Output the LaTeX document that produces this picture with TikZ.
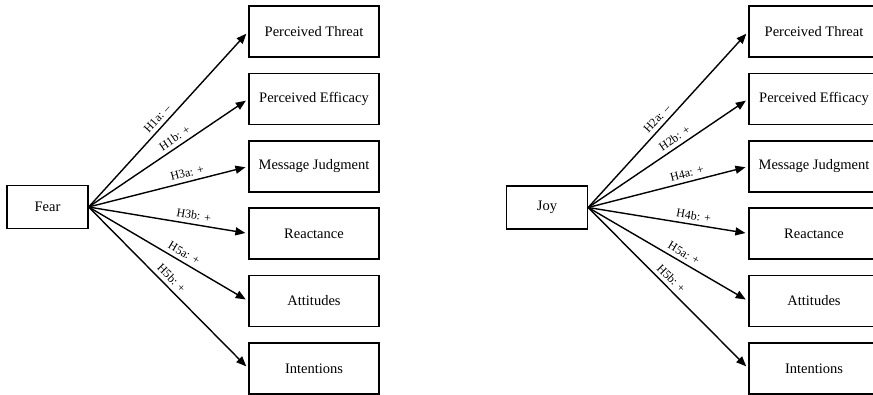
\documentclass[tikz,border=0pt]{standalone}
\usepackage{fontspec}
\setmainfont{Liberation Serif}
\usetikzlibrary{arrows.meta}
\begin{document}
\begin{tikzpicture}[x=1pt,y=-1pt,
  box/.style={draw, line width=1.3pt, minimum width=130pt, minimum height=51pt, inner sep=0pt, font=\fontsize{14.5}{16}\selectfont},
  src/.style={draw, line width=1.3pt, minimum width=81pt, minimum height=43pt, inner sep=0pt, font=\fontsize{14.5}{16}\selectfont},
  link/.style={line width=1.4pt, -{Triangle[length=10pt,width=8pt]}, shorten >=3pt},
  lab/.style={sloped, above, inner sep=0pt, yshift=4pt, font=\fontsize{12}{14}\selectfont}]
\useasboundingbox (0,0) rectangle (873,395);
% left group
\node[src] (fear) at (47.5,207) {Fear};
\node[box] (t1) at (314,31.5) {Perceived Threat};
\node[box] (e1) at (314,99) {Perceived Efficacy};
\node[box] (m1) at (314,166.5) {Message Judgment};
\node[box] (r1) at (314,233.5) {Reactance};
\node[box] (a1) at (314,301) {Attitudes};
\node[box] (i1) at (314,368.5) {Intentions};
\draw[link] (fear.east) -- node[lab,pos=0.47] {H1a: –} (t1.west);
\draw[link] (fear.east) -- node[lab,pos=0.57] {H1b: +} (e1.west);
\draw[link] (fear.east) -- node[lab,pos=0.63] {H3a: +} (m1.west);
\draw[link] (fear.east) -- node[lab,pos=0.65] {H3b: +} (r1.west);
\draw[link] (fear.east) -- node[lab,pos=0.57] {H5a: +} (a1.west);
\draw[link] (fear.east) -- node[lab,pos=0.48] {H5b: +} (i1.west);
% right group
\node[src] (joy) at (547,207.5) {Joy};
\node[box] (t2) at (814,31.5) {Perceived Threat};
\node[box] (e2) at (814,99) {Perceived Efficacy};
\node[box] (m2) at (814,166.5) {Message Judgment};
\node[box] (r2) at (814,233.5) {Reactance};
\node[box] (a2) at (814,301) {Attitudes};
\node[box] (i2) at (814,368.5) {Intentions};
\draw[link] (joy.east) -- node[lab,pos=0.47] {H2a: –} (t2.west);
\draw[link] (joy.east) -- node[lab,pos=0.57] {H2b: +} (e2.west);
\draw[link] (joy.east) -- node[lab,pos=0.63] {H4a: +} (m2.west);
\draw[link] (joy.east) -- node[lab,pos=0.65] {H4b: +} (r2.west);
\draw[link] (joy.east) -- node[lab,pos=0.57] {H5a: +} (a2.west);
\draw[link] (joy.east) -- node[lab,pos=0.48] {H5b: +} (i2.west);
\end{tikzpicture}
\end{document}
